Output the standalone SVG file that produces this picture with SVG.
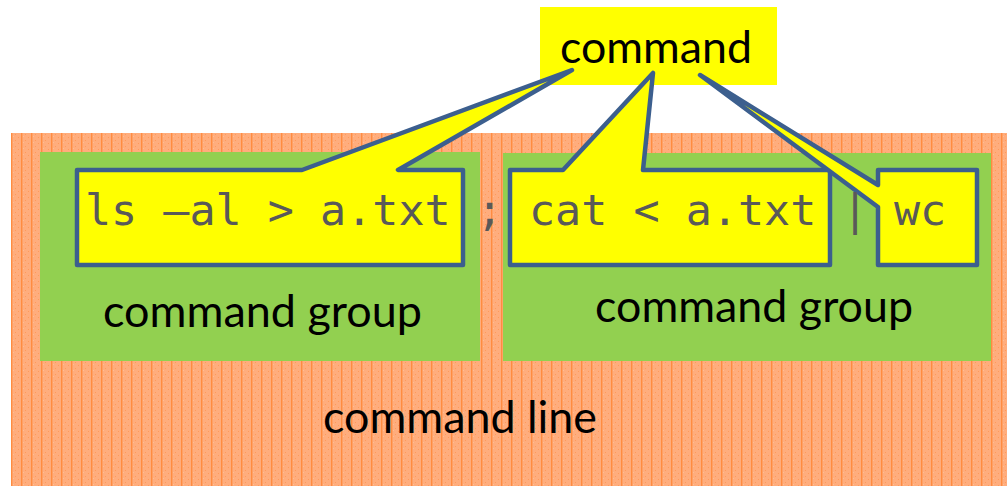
<svg xmlns="http://www.w3.org/2000/svg" width="1007" height="486" viewBox="0 0 1007 486">
  <style>
    .lbl { font-family: Lato, "Open Sans", sans-serif; font-size: 44px; fill: #000000; }
    .mono { font-family: "DejaVu Sans Mono", "Liberation Mono", monospace; font-size: 43.4px; fill: #595959; }
    .callout { fill: #FFFF00; stroke: #3C5F8E; stroke-width: 4.5; stroke-linejoin: round; stroke-linecap: round; }
    .grp { fill: #92D050; }
  </style>
  <defs>
    <pattern id="orangeTex" patternUnits="userSpaceOnUse" x="11" y="133" width="10" height="6">
      <rect width="10" height="6" fill="#FFAD7D"/>
      <rect x="0" y="0" width="1.4" height="6" fill="#FF8C40"/>
      <rect x="4" y="1" width="1" height="1" fill="#FF9A5A"/>
      <rect x="7" y="4" width="1" height="1" fill="#FF9A5A"/>
      <rect x="2" y="3" width="1" height="1" fill="#FFBE95"/>
    </pattern>
  </defs>

  <g id="command-line">
    <rect x="11" y="133" width="996" height="353" fill="url(#orangeTex)"/>
    <text class="lbl" x="323" y="433" textLength="274" lengthAdjust="spacingAndGlyphs">command line</text>
  </g>

  <g id="command-group-1">
    <rect class="grp" x="40" y="152" width="440" height="209"/>
    <text class="lbl" x="103" y="327" textLength="319" lengthAdjust="spacingAndGlyphs">command group</text>
  </g>

  <g id="command-group-2">
    <rect class="grp" x="503" y="153" width="488" height="208"/>
    <text class="lbl" x="595" y="322" textLength="318" lengthAdjust="spacingAndGlyphs">command group</text>
  </g>

  <g id="command-box">
    <rect x="540" y="7" width="237" height="78" fill="#FFFF00"/>
  </g>

  <g id="connectors">
    <path id="callout-ls" class="callout" d="M77,170 L302,170 L572,70 L398,170 L463,170 L463,265 L77,265 Z"/>
    <path id="callout-cat" class="callout" d="M510,170 L563,170 L653,73 L643,170 L830,170 L830,265 L510,265 Z"/>
    <path id="callout-wc" class="callout" d="M878,170 L977,170 L977,265 L878,265 L878,207 L700,75 L878,185 Z"/>
  </g>

  <g id="cmd-ls">
    <text class="mono" x="85" y="225">ls –al &gt; a.txt</text>
  </g>
  <g id="separators">
    <text class="mono" x="476.5" y="225">;</text>
    <text class="mono" x="842" y="225">|</text>
  </g>
  <g id="cmd-cat">
    <text class="mono" x="529" y="225">cat &lt; a.txt</text>
  </g>
  <g id="cmd-wc">
    <text class="mono" x="894" y="225">wc</text>
  </g>

  <g id="command-label">
    <text class="lbl" x="560" y="63" textLength="192" lengthAdjust="spacingAndGlyphs">command</text>
  </g>
</svg>
